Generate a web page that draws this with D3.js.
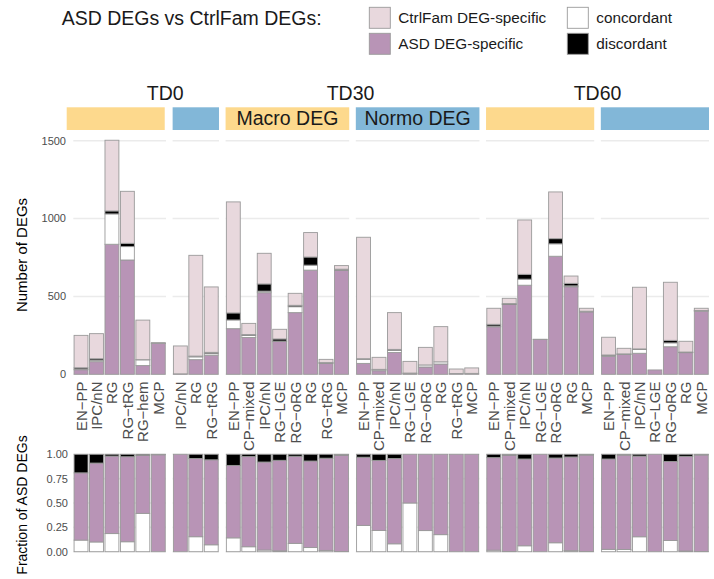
<!DOCTYPE html>
<html>
<head>
<meta charset="utf-8">
<script src="https://cdn.jsdelivr.net/npm/d3@7"></script>
<style>
  html, body { margin: 0; padding: 0; background: #fff; }
  svg { display: block; font-family: "Liberation Sans", Arial, Helvetica, sans-serif; }
</style>
</head>
<body>
<div id="chart"></div>
<script>
// ---------------- DATA ----------------
const timepoints = ["TD0", "TD30", "TD60"];
const panelTime = ["TD0", "TD0", "TD30", "TD30", "TD60", "TD60"];
const panelType = ["Macro DEG", "Normo DEG", "Macro DEG", "Normo DEG", "Macro DEG", "Normo DEG"];
const panelShowTypeLabel = [false, false, true, true, false, false];
const panelCells = [
  ["EN−PP", "IPC/nN", "RG", "RG−tRG", "RG−hem", "MCP"],
  ["IPC/nN", "RG", "RG−tRG"],
  ["EN−PP", "CP−mixed", "IPC/nN", "RG−LGE", "RG−oRG", "RG", "RG−tRG", "MCP"],
  ["EN−PP", "CP−mixed", "IPC/nN", "RG−LGE", "RG−oRG", "RG", "RG−tRG", "MCP"],
  ["EN−PP", "CP−mixed", "IPC/nN", "RG−LGE", "RG−oRG", "RG", "MCP"],
  ["EN−PP", "CP−mixed", "IPC/nN", "RG−LGE", "RG−oRG", "RG", "MCP"]
];
// counts of DEGs per category
const asdSpecific = [
  [29, 81, 835, 734, 56, 199],
  [3, 94, 123],
  [293, 236, 524, 211, 396, 669, 71, 668],
  [70, 23, 140, 4, 47, 66, 5, 6],
  [305, 449, 572, 224, 758, 562, 401],
  [115, 127, 135, 28, 177, 139, 406]
];
const concordant = [
  [5, 10, 195, 86, 37, 0],
  [0, 18, 10],
  [56, 13, 10, 2, 38, 32, 1, 1],
  [27, 7, 13, 4, 13, 14, 0, 0],
  [5, 1, 39, 0, 80, 6, 1],
  [3, 3, 25, 0, 25, 1, 1]
];
const discordant = [
  [8, 9, 19, 21, 1, 1],
  [0, 5, 8],
  [45, 6, 46, 14, 9, 52, 3, 6],
  [3, 2, 7, 0, 0, 0, 0, 0],
  [11, 4, 31, 0, 33, 16, 3],
  [6, 1, 3, 0, 16, 3, 3]
];
const ctrlSpecific = [
  [208, 161, 454, 334, 254, 3],
  [179, 647, 420],
  [713, 72, 197, 62, 77, 157, 21, 23],
  [780, 77, 236, 75, 113, 226, 29, 35],
  [103, 34, 349, 1, 300, 47, 19],
  [114, 36, 396, 0, 373, 69, 14]
];
const countTicks = [0, 500, 1000, 1500];
const fracTicks = [0, 0.25, 0.5, 0.75, 1];
const categoryNames = ["CtrlFam DEG-specific", "ASD DEG-specific", "concordant", "discordant"];
const categoryColors = ["#e8d8dd", "#b894b6", "#ffffff", "#000000"];
const typeColors = { "Macro DEG": "#fdd98d", "Normo DEG": "#82b7d8" };

// ---------------- LAYOUT ----------------
const W = 714, H = 579;
const svg = d3.select("#chart").append("svg").attr("width", W).attr("height", H);
const color = d3.scaleOrdinal().domain(categoryNames).range(categoryColors);

const plotLeft = 73.3, plotRight = 709, panelGap = 6.6;
const nTotal = d3.sum(panelCells, c => c.length);
const step = (plotRight - plotLeft - panelGap * (panelCells.length - 1)) / nTotal;

const yTop = d3.scaleLinear().domain([0, 1500]).range([374.3, 140.7]);
const yBot = d3.scaleLinear().domain([0, 1]).range([551.7, 454.3]);

let cursor = plotLeft;
const panels = panelCells.map((cells, i) => {
  const x0 = cursor, x1 = cursor + step * cells.length;
  cursor = x1 + panelGap;
  const x = d3.scaleBand().domain(cells).range([x0, x1]).paddingInner(0.1).paddingOuter(0.05);
  const rows = cells.map((c, j) => ({
    cell: c,
    asd: asdSpecific[i][j], con: concordant[i][j], dis: discordant[i][j], ctrl: ctrlSpecific[i][j]
  }));
  return { i, x0, x1, x, rows, time: panelTime[i], type: panelType[i] };
});

const gridColor = "#ebebeb";
const strokeCol = "#9a9a9a";

// gridlines
panels.forEach(p => {
  svg.append("g").selectAll("line").data(countTicks).join("line")
    .attr("x1", p.x0).attr("x2", p.x1)
    .attr("y1", d => yTop(d)).attr("y2", d => yTop(d))
    .attr("stroke", gridColor).attr("stroke-width", 1.6);
  svg.append("g").selectAll("line").data(fracTicks).join("line")
    .attr("x1", p.x0).attr("x2", p.x1)
    .attr("y1", d => yBot(d)).attr("y2", d => yBot(d))
    .attr("stroke", gridColor).attr("stroke-width", 1.6);
});

// top bars: ASD-specific, concordant, discordant, CtrlFam-specific (bottom to top)
const topKeys = ["asd", "con", "dis", "ctrl"];
const topColors = { asd: color("ASD DEG-specific"), con: color("concordant"), dis: color("discordant"), ctrl: color("CtrlFam DEG-specific") };
panels.forEach(p => {
  const stacked = d3.stack().keys(topKeys)(p.rows);
  const g = svg.append("g");
  stacked.forEach(layer => {
    g.append("g").selectAll("rect").data(layer).join("rect")
      .attr("x", d => p.x(d.data.cell))
      .attr("width", p.x.bandwidth())
      .attr("y", d => yTop(d[1]))
      .attr("height", d => Math.max(0, yTop(d[0]) - yTop(d[1])))
      .attr("fill", topColors[layer.key])
      .attr("stroke", strokeCol).attr("stroke-width", 0.9);
  });
});

// bottom bars: fraction of ASD DEGs (concordant, ASD-specific, discordant)
const botKeys = ["con", "asd", "dis"];
panels.forEach(p => {
  const fr = p.rows.map(r => {
    const tot = r.asd + r.con + r.dis;
    return { cell: r.cell, con: r.con / tot, asd: r.asd / tot, dis: r.dis / tot };
  });
  const stacked = d3.stack().keys(botKeys)(fr);
  const g = svg.append("g");
  stacked.forEach(layer => {
    g.append("g").selectAll("rect").data(layer).join("rect")
      .attr("x", d => p.x(d.data.cell))
      .attr("width", p.x.bandwidth())
      .attr("y", d => yBot(d[1]))
      .attr("height", d => Math.max(0, yBot(d[0]) - yBot(d[1])))
      .attr("fill", topColors[layer.key])
      .attr("stroke", strokeCol).attr("stroke-width", 0.9);
  });
});

// x labels (under top panel)
panels.forEach(p => {
  svg.append("g").selectAll("text").data(p.x.domain()).join("text")
    .attr("transform", d => `translate(${p.x(d) + p.x.bandwidth() / 2},381.5) rotate(-90)`)
    .attr("text-anchor", "end").attr("dominant-baseline", "central")
    .attr("font-size", 15).attr("fill", "#4d4d4d")
    .text(d => d);
});

// y axes
svg.append("g").selectAll("text").data(countTicks).join("text")
  .attr("x", 66).attr("y", d => yTop(d)).attr("dy", "0.35em")
  .attr("text-anchor", "end").attr("font-size", 11).attr("fill", "#4d4d4d")
  .text(d => d3.format("d")(d));
svg.append("g").selectAll("text").data(fracTicks).join("text")
  .attr("x", 68).attr("y", d => yBot(d)).attr("dy", "0.35em")
  .attr("text-anchor", "end").attr("font-size", 11).attr("fill", "#4d4d4d")
  .text(d => d3.format(".2f")(d));

svg.append("text").attr("transform", "translate(27,255) rotate(-90)")
  .attr("text-anchor", "middle").attr("font-size", 15).attr("fill", "#000")
  .text("Number of DEGs");
svg.append("text").attr("transform", "translate(27,505) rotate(-90)")
  .attr("text-anchor", "middle").attr("font-size", 14).attr("fill", "#000")
  .text("Fraction of ASD DEGs");

// strips
panels.forEach((p, k) => {
  const sx0 = k === 0 ? p.x0 - 6.6 : p.x0;
  const sx1 = k === 0 ? p.x1 - 1.3 : p.x1;
  svg.append("rect").attr("x", sx0).attr("y", 107.3).attr("width", sx1 - sx0).attr("height", 22.7)
    .attr("fill", typeColors[p.type]);
  if (panelShowTypeLabel[k]) {
    svg.append("text").attr("x", (p.x0 + p.x1) / 2).attr("y", 125)
      .attr("text-anchor", "middle").attr("font-size", 19.5).attr("fill", "#1a1a1a")
      .text(p.type);
  }
});
// timepoint labels
const tdShift = { "TD0": 19, "TD30": -2, "TD60": 0 };
timepoints.forEach(t => {
  const ps = panels.filter(p => p.time === t);
  const cx = (d3.min(ps, p => p.x0) + d3.max(ps, p => p.x1)) / 2 + tdShift[t];
  svg.append("text").attr("x", cx).attr("y", 100)
    .attr("text-anchor", "middle").attr("font-size", 19.5).attr("fill", "#1a1a1a")
    .text(t);
});

// legend
svg.append("text").attr("x", 61.7).attr("y", 25.3).attr("font-size", 19.5).attr("fill", "#1a1a1a")
  .text("ASD DEGs vs CtrlFam DEGs:");
const legendPos = [
  { name: "CtrlFam DEG-specific", x: 369.3, y: 7.3 },
  { name: "ASD DEG-specific", x: 369.3, y: 33.3 },
  { name: "concordant", x: 567.3, y: 7.3 },
  { name: "discordant", x: 567.3, y: 33.3 }
];
legendPos.forEach(l => {
  svg.append("rect").attr("x", l.x).attr("y", l.y).attr("width", 21).attr("height", 21)
    .attr("fill", color(l.name)).attr("stroke", strokeCol).attr("stroke-width", 0.9);
  svg.append("text").attr("x", l.x + 29).attr("y", l.y + 15.3)
    .attr("font-size", 15.3).attr("fill", "#1a1a1a").text(l.name);
});
</script>
</body>
</html>
